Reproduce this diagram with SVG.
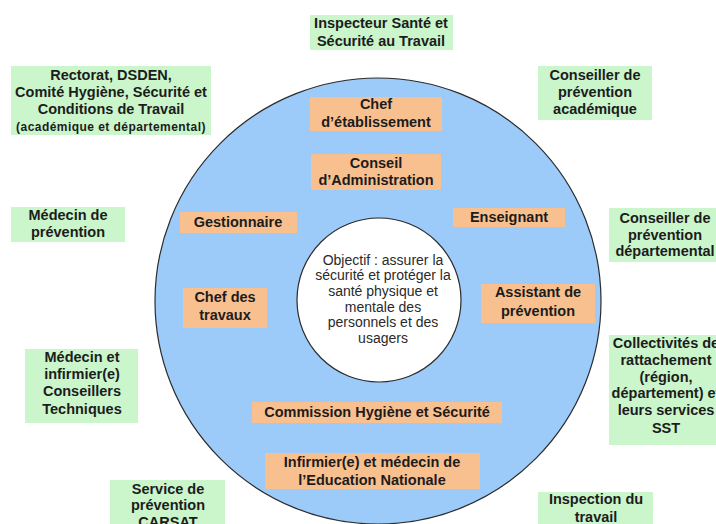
<svg xmlns="http://www.w3.org/2000/svg" width="716" height="524" viewBox="0 0 716 524">
<style>
.g{fill:#cbf5cb}
.o{fill:#f9c08f}
.t{font-family:"Liberation Sans",Arial,sans-serif;font-size:14.5px;font-weight:bold;fill:#1c1c1c;text-anchor:middle}
.s{font-size:12px;letter-spacing:0.45px}
.c{font-family:"Liberation Sans",Arial,sans-serif;font-size:14px;fill:#2a2a2a;text-anchor:middle}
</style>
<rect width="716" height="524" fill="#ffffff"/>
<g id="ring">
<circle cx="378" cy="301" r="223" fill="#9ccbfa" stroke="#2b2b2b" stroke-width="1.2"/>
</g>
<g id="center">
<circle cx="379" cy="300" r="82" fill="#ffffff" stroke="#2b2b2b" stroke-width="1.2"/>
<text class="c" x="383" y="265">Objectif : assurer la<tspan x="383" y="280">sécurité et protéger la</tspan><tspan x="383" y="296">santé physique et</tspan><tspan x="383" y="312">mentale des</tspan><tspan x="383" y="327">personnels et des</tspan><tspan x="383" y="343">usagers</tspan></text>
</g>
<g id="connectors"/>
<g id="inspecteur-sst">
<rect class="g" x="310" y="15" width="143" height="35"/>
<text class="t" x="381" y="28">Inspecteur Santé et<tspan x="381" y="46">Sécurité au Travail</tspan></text>
</g>
<g id="rectorat">
<rect class="g" x="11" y="66" width="200" height="69"/>
<text class="t" x="111" y="80">Rectorat, DSDEN,<tspan x="111" y="97">Comité Hygiène, Sécurité et</tspan><tspan x="111" y="114">Conditions de Travail</tspan><tspan class="s" x="111" y="131">(académique et départemental)</tspan></text>
</g>
<g id="medecin-prevention">
<rect class="g" x="11" y="207" width="114" height="35"/>
<text class="t" x="68" y="220">Médecin de<tspan x="68" y="237">prévention</tspan></text>
</g>
<g id="conseiller-academique">
<rect class="g" x="538" y="66" width="114" height="54"/>
<text class="t" x="595" y="80">Conseiller de<tspan x="595" y="97">prévention</tspan><tspan x="595" y="114">académique</tspan></text>
</g>
<g id="conseiller-departemental">
<rect class="g" x="609" y="208" width="112" height="54"/>
<text class="t" x="665" y="223">Conseiller de<tspan x="665" y="240">prévention</tspan><tspan x="665" y="256">départemental</tspan></text>
</g>
<g id="collectivites">
<rect class="g" x="609" y="335" width="112" height="110"/>
<text class="t" x="666" y="348">Collectivités de<tspan x="666" y="365">rattachement</tspan><tspan x="666" y="382">(région,</tspan><tspan x="666" y="398">département) et</tspan><tspan x="666" y="415">leurs services</tspan><tspan x="666" y="433">SST</tspan></text>
</g>
<g id="medecin-infirmier-ct">
<rect class="g" x="25" y="349" width="113" height="74"/>
<text class="t" x="82" y="362">Médecin et<tspan x="82" y="379">infirmier(e)</tspan><tspan x="82" y="396">Conseillers</tspan><tspan x="82" y="414">Techniques</tspan></text>
</g>
<g id="carsat">
<rect class="g" x="110" y="480" width="115" height="50"/>
<text class="t" x="168" y="494">Service de<tspan x="168" y="510">prévention</tspan><tspan x="168" y="527">CARSAT</tspan></text>
</g>
<g id="inspection-travail">
<rect class="g" x="538" y="492" width="115" height="40"/>
<text class="t" x="596" y="504">Inspection du<tspan x="596" y="522">travail</tspan></text>
</g>
<g id="chef-etablissement">
<rect class="o" x="310" y="97" width="132" height="34"/>
<text class="t" x="376" y="109">Chef<tspan x="376" y="127">d’établissement</tspan></text>
</g>
<g id="conseil-administration">
<rect class="o" x="311" y="154" width="130" height="36"/>
<text class="t" x="376" y="168">Conseil<tspan x="376" y="185">d’Administration</tspan></text>
</g>
<g id="gestionnaire">
<rect class="o" x="180" y="212" width="117" height="21"/>
<text class="t" x="238" y="227">Gestionnaire</text>
</g>
<g id="enseignant">
<rect class="o" x="453" y="208" width="112" height="19"/>
<text class="t" x="509" y="222">Enseignant</text>
</g>
<g id="chef-travaux">
<rect class="o" x="183" y="288" width="84" height="40"/>
<text class="t" x="225" y="302">Chef des<tspan x="225" y="320">travaux</tspan></text>
</g>
<g id="assistant-prevention">
<rect class="o" x="481" y="284" width="114" height="39"/>
<text class="t" x="538" y="297">Assistant de<tspan x="538" y="316">prévention</tspan></text>
</g>
<g id="commission-hs">
<rect class="o" x="252" y="402" width="250" height="21"/>
<text class="t" x="377" y="417">Commission Hygiène et Sécurité</text>
</g>
<g id="infirmier-medecin-en">
<rect class="o" x="265" y="453" width="215" height="36"/>
<text class="t" x="372" y="467">Infirmier(e) et médecin de<tspan x="372" y="485">l’Education Nationale</tspan></text>
</g>
</svg>
